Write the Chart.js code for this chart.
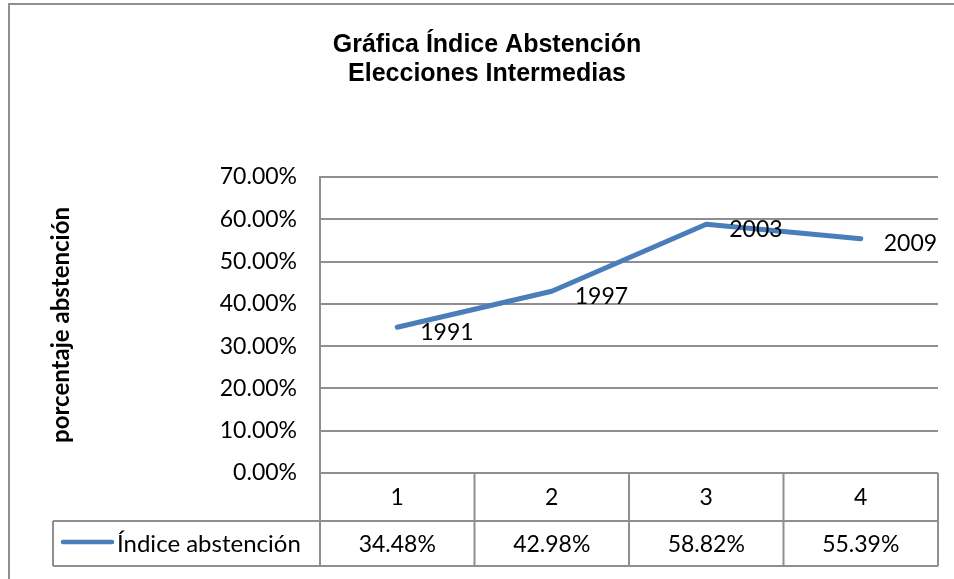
<!DOCTYPE html>
<html>
<head>
<meta charset="utf-8">
<title>Gráfica Índice Abstención</title>
<script src="https://cdn.jsdelivr.net/npm/chart.js@4.4.1/dist/chart.umd.min.js"></script>
<style>
body{margin:0;background:#fff}
#box{position:relative;width:954px;height:579px}
</style>
</head>
<body>
<div id="box"><canvas id="absChart"></canvas></div>
<script>
// ------------------------------------
// DATA
// ------------------------------------

const categories = ["1","2","3","4"]
const years = ["1991","1997","2003","2009"]
const abstencion = [34.48, 42.98, 58.82, 55.39]
const yTicks = [0,10,20,30,40,50,60,70]

const seriesName = "Índice abstención"
const titleLines = ["Gráfica Índice Abstención","Elecciones Intermedias"]
const yTitle = "porcentaje abstención"

const blue = "#4a7ebb"
const gray = "#8f8f8f"
const txtFont = "Lato"

function pct(v){
    return v.toFixed(2) + "%"
}

// ------------------------------------
// EXTRA DRAWING (title, labels, data table)
// ------------------------------------

const extras = {
    id:"extras",
    afterDraw(chart){
        const ctx = chart.ctx
        const area = chart.chartArea
        const xs = chart.scales.x
        const meta = chart.getDatasetMeta(0)

        ctx.save()

        // outer frame
        ctx.strokeStyle = gray
        ctx.lineWidth = 2
        ctx.beginPath()
        ctx.moveTo(9,579)
        ctx.lineTo(9,4)
        ctx.lineTo(954,4)
        ctx.stroke()

        // chart title
        ctx.fillStyle = "#000"
        ctx.textAlign = "center"
        ctx.textBaseline = "middle"
        ctx.font = "bold 25px 'Liberation Sans', Arial"
        ctx.fillText(titleLines[0], 487, 45)
        ctx.fillText(titleLines[1], 487, 74)

        // year labels next to each point
        ctx.font = "23px " + txtFont
        ctx.textAlign = "left"
        meta.data.forEach((p,i)=>{
            ctx.fillText(years[i], p.x + 23, p.y + 5)
        })

        // data table
        const colW = xs.width / categories.length
        const bounds = []
        for(let k=0;k<=categories.length;k++){
            bounds.push(area.left + k*colW)
        }
        const rowMid = 521
        const rowEnd = 566
        const legLeft = 53

        ctx.strokeStyle = gray
        ctx.lineWidth = 2
        ctx.beginPath()
        bounds.forEach(b=>{
            ctx.moveTo(b, area.bottom)
            ctx.lineTo(b, rowEnd)
        })
        ctx.moveTo(legLeft, rowMid)
        ctx.lineTo(area.right, rowMid)
        ctx.moveTo(legLeft, rowEnd)
        ctx.lineTo(area.right, rowEnd)
        ctx.moveTo(legLeft, rowMid)
        ctx.lineTo(legLeft, rowEnd)
        ctx.stroke()

        ctx.textAlign = "center"
        categories.forEach((c,i)=>{
            const cx = xs.getPixelForValue(i)
            ctx.fillText(c, cx, (area.bottom + rowMid)/2 + 1)
            ctx.fillText(pct(abstencion[i]), cx, (rowMid + rowEnd)/2 + 1)
        })

        // legend key
        ctx.strokeStyle = blue
        ctx.lineWidth = 4.5
        ctx.lineCap = "round"
        ctx.beginPath()
        ctx.moveTo(63, 542)
        ctx.lineTo(112, 542)
        ctx.stroke()
        ctx.textAlign = "left"
        ctx.font = "24px " + txtFont
        ctx.fillText(seriesName, 117, 544)

        ctx.restore()
    }
}

// ------------------------------------
// CHART
// ------------------------------------

const ctx = document.getElementById("absChart").getContext("2d")

new Chart(ctx,{
    type:"line",
    data:{
        labels:categories,
        datasets:[
            {
                label:seriesName,
                data:abstencion,
                borderColor:blue,
                borderWidth:5,
                borderCapStyle:"round",
                borderJoinStyle:"round",
                pointRadius:0,
                tension:0,
                fill:false
            }
        ]
    },
    options:{
        responsive:true,
        maintainAspectRatio:false,
        animation:false,
        layout:{
            padding:{top:177, right:16, bottom:0, left:0}
        },
        plugins:{
            legend:{display:false},
            tooltip:{enabled:false}
        },
        scales:{
            x:{
                offset:true,
                grid:{display:false},
                border:{display:false},
                ticks:{display:false},
                afterFit:(s)=>{ s.height = 106 }
            },
            y:{
                min:0,
                max:70,
                afterBuildTicks:(s)=>{ s.ticks = yTicks.map(v=>({value:v})) },
                afterFit:(s)=>{ s.width = 320 },
                grid:{color:gray, lineWidth:2, drawTicks:false},
                border:{color:gray, width:2},
                ticks:{
                    color:"#000",
                    padding:23,
                    font:{family:txtFont, size:23},
                    callback:(v)=>pct(v)
                },
                title:{
                    display:true,
                    text:yTitle,
                    color:"#000",
                    font:{family:txtFont, size:24, weight:"bold"},
                    padding:{top:47, bottom:0}
                }
            }
        }
    },
    plugins:[extras]
})
</script>
</body>
</html>
